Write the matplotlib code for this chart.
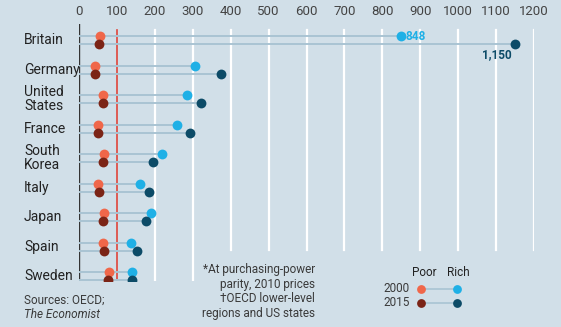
import numpy as np
import matplotlib.pyplot as plt

plt.rcParams['font.family'] = ['Roboto', 'DejaVu Sans']

countries = ["Britain", "Germany", "United\nStates", "France", "South\nKorea",
             "Italy", "Japan", "Spain", "Sweden"]
# GDP per person, poorest and richest region, EU/OECD average = 100
poor_2000 = [55, 42, 64, 49, 66, 51, 66, 64, 78]
rich_2000 = [848, 306, 286, 259, 220, 162, 189, 138, 140]
poor_2015 = [53, 41, 63, 50, 64, 52, 64, 66, 76]
rich_2015 = [1150, 375, 321, 294, 196, 185, 176, 152, 140]
xticks = [0, 100, 200, 300, 400, 500, 600, 700, 800, 900, 1000, 1100, 1200]

bg = "#d1dfe8"
c_poor00, c_rich00 = "#f0674a", "#1fb0e6"
c_poor15, c_rich15 = "#7b2416", "#0c4b67"
c_link = "#a9c4d3"
c_text = "#3a3a3a"

W, H = 561, 327
fig = plt.figure(figsize=(W / 100, H / 100), dpi=100, facecolor=bg)

# main axes: x=0 at px 79, x=1200 at px 534; rows from px 22 to 282
x0, x1, y_top, y_bot = 79, 534, 24, 281
ax = fig.add_axes([x0 / W, 1 - y_bot / H, (x1 - x0) / W, (y_bot - y_top) / H])
ax.set_facecolor(bg)
row_px = 29.5
ax.set_xlim(0, 1200)
ax.set_ylim((y_bot - 40) / row_px, (y_top - 40) / row_px)
for s in ax.spines.values():
    s.set_visible(False)

# white gridlines, the long ones stop above the footnote
grid_end = (250 - 40) / row_px
for t in xticks[2:]:
    lo = (y_bot - 40) / row_px if t <= 300 else grid_end
    ax.plot([t, t], [lo, (30 - 40) / row_px], color="white", lw=1.6, zorder=1)

ax.set_xticks(xticks)
ax.set_xticklabels([str(t) for t in xticks])
ax.xaxis.tick_top()
ax.tick_params(axis="x", length=0, pad=4, labelsize=9.5, labelcolor="#444444")
ax.set_yticks([])

ax.axvline(100, ymin=0, ymax=(y_bot - 30) / (y_bot - y_top), color="#e0453a", lw=1.2, zorder=2)
ax.axvline(0, color="#333333", lw=1.0, zorder=2)

ypos = np.arange(len(countries))
off = 4 / row_px
ms = 50
for i in ypos:
    ax.plot([0, rich_2000[i]], [i - off, i - off], color=c_link, lw=1.4, zorder=3)
    ax.plot([0, rich_2015[i]], [i + off, i + off], color=c_link, lw=1.4, zorder=3)
ax.scatter(poor_2000, ypos - off, s=ms, color=c_poor00, zorder=4, lw=0)
ax.scatter(rich_2000, ypos - off, s=ms, color=c_rich00, zorder=4, lw=0)
ax.scatter(poor_2015, ypos + off, s=ms, color=c_poor15, zorder=5, lw=0)
ax.scatter(rich_2015, ypos + off, s=ms, color=c_rich15, zorder=5, lw=0)

ax.text(rich_2000[0] + 12, 0 - off, f"{rich_2000[0]}", color=c_rich00, fontsize=8.5,
        fontweight="bold", va="center", ha="left", zorder=6)
ax.text(rich_2015[0] - 8, 0 + off + 0.36, f"{rich_2015[0]:,}", color=c_rich15, fontsize=8.5,
        fontweight="bold", va="center", ha="right", zorder=6)

for i, name in enumerate(countries):
    ax.text(-145, i, name, fontsize=10, color="#222222", va="center", ha="left",
            linespacing=1.05, clip_on=False)

# overlay in pixel coordinates for notes and legend
ov = fig.add_axes([0, 0, 1, 1])
ov.set_xlim(0, W)
ov.set_ylim(H, 0)
ov.axis("off")
ov.patch.set_alpha(0)

ov.text(24, 300, "Sources: OECD;", fontsize=8.5, color=c_text, va="center")
ov.text(24, 314, "The Economist", fontsize=8.5, color=c_text, va="center", style="italic")

notes = ["*At purchasing-power", "parity, 2010 prices", "\u2020OECD lower-level",
         "regions and US states"]
for k, line in enumerate(notes):
    ov.text(315, 270 + k * 14.5, line, fontsize=8.5, color=c_text, va="center", ha="right")

ov.text(424, 273, "Poor", fontsize=8.5, color="#222222", va="center", ha="center")
ov.text(458, 273, "Rich", fontsize=8.5, color="#222222", va="center", ha="center")
for yy, lab, cp, cr in [(289, "2000", c_poor00, c_rich00), (303, "2015", c_poor15, c_rich15)]:
    ov.text(410, yy, lab, fontsize=8.5, color=c_text, va="center", ha="right")
    ov.plot([421, 457], [yy, yy], color=c_link, lw=1.2, zorder=3)
    ov.scatter([421], [yy], s=40, color=cp, lw=0, zorder=4)
    ov.scatter([457], [yy], s=40, color=cr, lw=0, zorder=4)

fig.savefig("out.png", dpi=100, facecolor=bg)
